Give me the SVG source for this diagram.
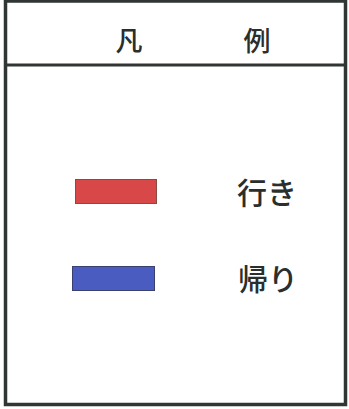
<svg xmlns="http://www.w3.org/2000/svg" width="349" height="409" viewBox="0 0 349 409">
<style>
.frame{fill:#fff;stroke:#2f3633;stroke-width:3.5}
.line{stroke:#2f3633;stroke-width:3}
.t{font-family:"Noto Sans CJK JP","Noto Sans",sans-serif;fill:#2a2e2c;font-weight:500}
.h{font-size:27px}
.l{font-size:30px}
.sw{stroke-width:1}
</style>
<rect width="349" height="409" fill="#fff"/>
<g id="frame">
<rect class="frame" x="5.5" y="1" width="340" height="403.5"/>
<line class="line" x1="5.5" y1="65" x2="345.5" y2="65"/>
</g>
<g id="title">
<text class="t h" x="129" y="51" text-anchor="middle">凡</text>
<text class="t h" x="257" y="51" text-anchor="middle">例</text>
</g>
<g id="outbound">
<rect class="sw" x="75.5" y="179.5" width="81" height="24" fill="#d84848" stroke="#8a4a40"/>
<text class="t l" x="267" y="204" text-anchor="middle">行き</text>
</g>
<g id="return">
<rect class="sw" x="72.5" y="266.5" width="82" height="24" fill="#4a5cc0" stroke="#3a4070"/>
<text class="t l" x="268" y="290" text-anchor="middle">帰り</text>
</g>
<g id="connectors"/>
</svg>
